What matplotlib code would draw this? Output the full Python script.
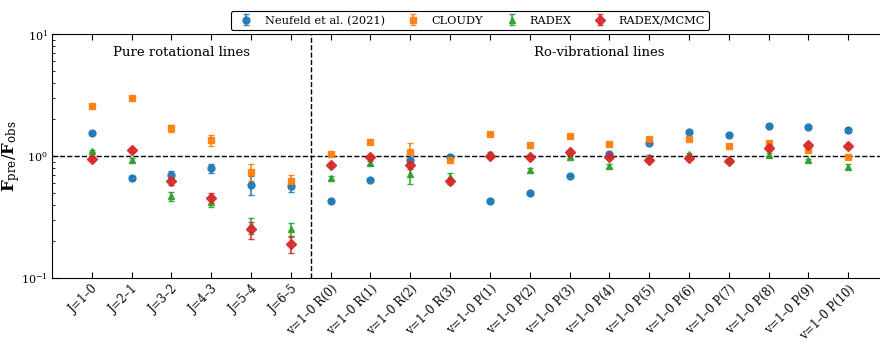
import matplotlib
matplotlib.use('Agg')
import matplotlib.pyplot as plt
import numpy as np

plt.rcParams['font.family'] = 'DejaVu Serif'
plt.rcParams['mathtext.fontset'] = 'dejavuserif'

# Linhas observadas
lines = ['J=1–0', 'J=2–1', 'J=3–2', 'J=4–3', 'J=5–4', 'J=6–5',
         'v=1–0 R(0)', 'v=1–0 R(1)', 'v=1–0 R(2)', 'v=1–0 R(3)',
         'v=1–0 P(1)', 'v=1–0 P(2)', 'v=1–0 P(3)', 'v=1–0 P(4)', 'v=1–0 P(5)',
         'v=1–0 P(6)', 'v=1–0 P(7)', 'v=1–0 P(8)', 'v=1–0 P(9)', 'v=1–0 P(10)']

# Razoes F_pre / F_obs
neufeld = [1.55, 0.66, 0.70, 0.79, 0.58, 0.57,
           0.43, 0.64, 0.93, 0.99,
           0.43, 0.50, 0.69, 1.03, 1.29, 1.56, 1.49, 1.76, 1.72, 1.64]
neufeld_err = [0.03, 0.02, 0.05, 0.07, 0.10, 0.06,
               0.01, 0.01, 0.02, 0.02,
               0.01, 0.01, 0.01, 0.02, 0.02, 0.03, 0.03, 0.03, 0.03, 0.06]

cloudy = [2.57, 3.00, 1.69, 1.35, 0.74, 0.62,
          1.04, 1.31, 1.08, 0.92,
          1.51, 1.22, 1.47, 1.25, 1.38, 1.39, 1.21, 1.29, 1.13, 0.99]
cloudy_err = [0.05, 0.06, 0.12, 0.15, 0.12, 0.08,
              0.02, 0.03, 0.20, 0.03,
              0.03, 0.03, 0.03, 0.03, 0.03, 0.03, 0.03, 0.03, 0.03, 0.03]

radex = [1.10, 0.93, 0.47, 0.42, 0.27, 0.25,
         0.66, 0.88, 0.71, 0.67,
         1.03, 0.77, 0.99, 0.83, 0.99, 1.03, 0.92, 1.02, 0.92, 0.82]
radex_err = [0.03, 0.03, 0.04, 0.04, 0.04, 0.035,
             0.03, 0.03, 0.12, 0.05,
             0.04, 0.03, 0.03, 0.03, 0.03, 0.03, 0.03, 0.03, 0.03, 0.04]

mcmc = [0.94, 1.12, 0.62, 0.455, 0.25, 0.19,
        0.84, 0.975, 0.84, 0.62,
        1.00, 0.98, 1.08, 0.99, 0.93, 0.97, 0.915, 1.16, 1.23, 1.21]
mcmc_err = [0.03, 0.04, 0.04, 0.04, 0.04, 0.03,
            0.03, 0.03, 0.06, 0.03,
            0.04, 0.03, 0.03, 0.03, 0.03, 0.03, 0.03, 0.04, 0.04, 0.04]

x = np.arange(len(lines))

fig = plt.figure(figsize=(8.8, 3.45), dpi=100)
ax = fig.add_axes([52/880, 67/345, 836/880, 244/345])

kw = dict(ls='none', ms=5, capsize=2, elinewidth=1.2, alpha=0.9)
ax.errorbar(x, neufeld, yerr=neufeld_err, fmt='o', color='tab:blue', label='Neufeld et al. (2021)', **kw)
ax.errorbar(x, cloudy, yerr=cloudy_err, fmt='s', color='tab:orange', label='CLOUDY', **kw)
ax.errorbar(x, radex, yerr=radex_err, fmt='^', color='tab:green', label='RADEX', **kw)
ax.errorbar(x, mcmc, yerr=mcmc_err, fmt='D', color='tab:red', label='RADEX/MCMC', **kw)

ax.axhline(1.0, color='k', ls='--', lw=1)
ax.axvline(5.5, color='k', ls='--', lw=1)

ax.set_yscale('log')
ax.set_ylim(0.1, 10)
ax.set_xlim(-1, 20)

ax.text(2.25, 7.0, 'Pure rotational lines', ha='center', va='center', fontsize=9.5)
ax.text(12.75, 7.0, 'Ro-vibrational lines', ha='center', va='center', fontsize=9.5)

ax.set_xticks(x)
ax.set_xticklabels(lines, rotation=45, ha='right', rotation_mode='anchor', fontsize=8.3)
ax.tick_params(axis='x', which='major', direction='in', top=True, length=4, pad=3)
ax.tick_params(axis='y', which='both', direction='in', labelsize=8)
ax.tick_params(axis='y', which='major', length=4, pad=3)
ax.tick_params(axis='y', which='minor', length=2)
ax.set_ylabel(r'$\mathbf{F}_{\rm pre}/\mathbf{F}_{\rm obs}$', fontsize=12)
ax.yaxis.set_label_coords(-0.036, 0.5)

leg = ax.legend(loc='lower center', bbox_to_anchor=(0.5, 1.015), ncol=4,
                fontsize=8.2, frameon=True, framealpha=1, edgecolor='k',
                borderaxespad=0, columnspacing=1.5, handletextpad=0.6)
leg.get_frame().set_linewidth(0.8)

fig.savefig('out.png', dpi=100)
